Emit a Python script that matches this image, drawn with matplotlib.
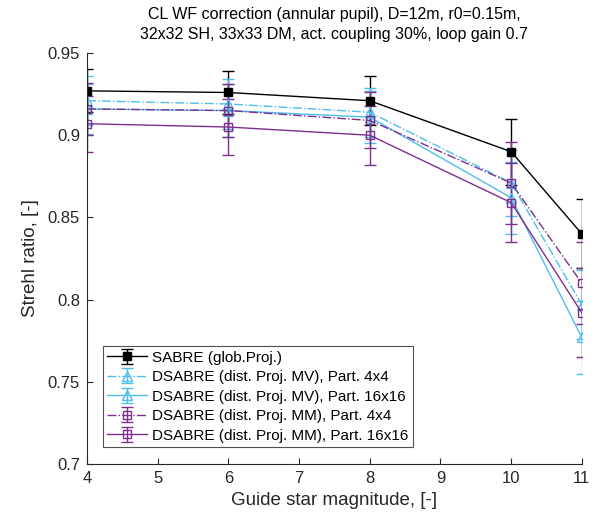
import matplotlib.pyplot as plt
import numpy as np

plt.rcParams.update({
    "font.family": ["Liberation Sans", "DejaVu Sans"],
    "font.size": 11,
})

magnitude = [4, 6, 8, 10, 11]

sabre = [0.927, 0.926, 0.921, 0.890, 0.840]
sabre_err = [0.013, 0.013, 0.015, 0.020, 0.021]

mv_4x4 = [0.921, 0.919, 0.914, 0.871, 0.797]
mv_4x4_err = [0.015, 0.015, 0.015, 0.020, 0.021]
mv_16x16 = [0.916, 0.915, 0.911, 0.862, 0.777]
mv_16x16_err = [0.015, 0.016, 0.016, 0.022, 0.022]

mm_4x4 = [0.916, 0.915, 0.909, 0.871, 0.810]
mm_4x4_err = [0.016, 0.016, 0.017, 0.025, 0.025]
mm_16x16 = [0.907, 0.905, 0.900, 0.859, 0.792]
mm_16x16_err = [0.017, 0.017, 0.018, 0.024, 0.027]

cyan = '#4DBEEE'
purple = '#7E2F8E'

fig = plt.figure(figsize=(5.94, 5.15), dpi=100)
ax = fig.add_axes([0.1465, 0.099, 0.833, 0.798])

common = dict(capsize=4, elinewidth=1, linewidth=1, markeredgewidth=1)
ax.errorbar(magnitude, sabre, yerr=sabre_err, color='black', marker='s', markersize=6,
            markerfacecolor='black', label='SABRE (glob.Proj.)', **common)
ax.errorbar(magnitude, mv_4x4, yerr=mv_4x4_err, color=cyan, marker='^', linestyle='-.',
            markersize=7, markerfacecolor='none',
            label='DSABRE (dist. Proj. MV), Part. 4x4', **common)
ax.errorbar(magnitude, mv_16x16, yerr=mv_16x16_err, color=cyan, marker='^', markersize=7,
            markerfacecolor='none', label='DSABRE (dist. Proj. MV), Part. 16x16', **common)
ax.errorbar(magnitude, mm_4x4, yerr=mm_4x4_err, color=purple, marker='s', linestyle='-.',
            markersize=6, markerfacecolor='none',
            label='DSABRE (dist. Proj. MM), Part. 4x4', **common)
ax.errorbar(magnitude, mm_16x16, yerr=mm_16x16_err, color=purple, marker='s', markersize=6,
            markerfacecolor='none', label='DSABRE (dist. Proj. MM), Part. 16x16', **common)

ax.set_xlim(4, 11)
ax.set_ylim(0.7, 0.95)
ax.set_xticks(range(4, 12))
ax.set_yticks([0.7, 0.75, 0.8, 0.85, 0.9, 0.95])
ax.set_yticklabels(['0.7', '0.75', '0.8', '0.85', '0.9', '0.95'])
ax.tick_params(direction='in', length=4, labelsize=12, colors='#262626', pad=5)
ax.spines['top'].set_visible(False)
ax.spines['right'].set_visible(False)
ax.spines['left'].set_color('#262626')
ax.spines['bottom'].set_color('#262626')
ax.set_xlabel("Guide star magnitude, [-]", fontsize=13.5, color='#262626', labelpad=4)
ax.set_ylabel("Strehl ratio, [-]", fontsize=13.5, color='#262626', labelpad=6)
ax.set_title("CL WF correction (annular pupil), D=12m, r0=0.15m,\n32x32 SH, 33x33 DM, act. coupling 30%, loop gain 0.7",
             fontsize=11.5, pad=10, linespacing=1.45)

leg = ax.legend(loc='lower left', bbox_to_anchor=(0.032, 0.041), fancybox=False,
                edgecolor='#262626', fontsize=11, handlelength=2.6,
                borderpad=0.3, labelspacing=0.36, handletextpad=0.3, borderaxespad=0)
leg.get_frame().set_linewidth(0.8)

plt.savefig("out.png", dpi=100)
